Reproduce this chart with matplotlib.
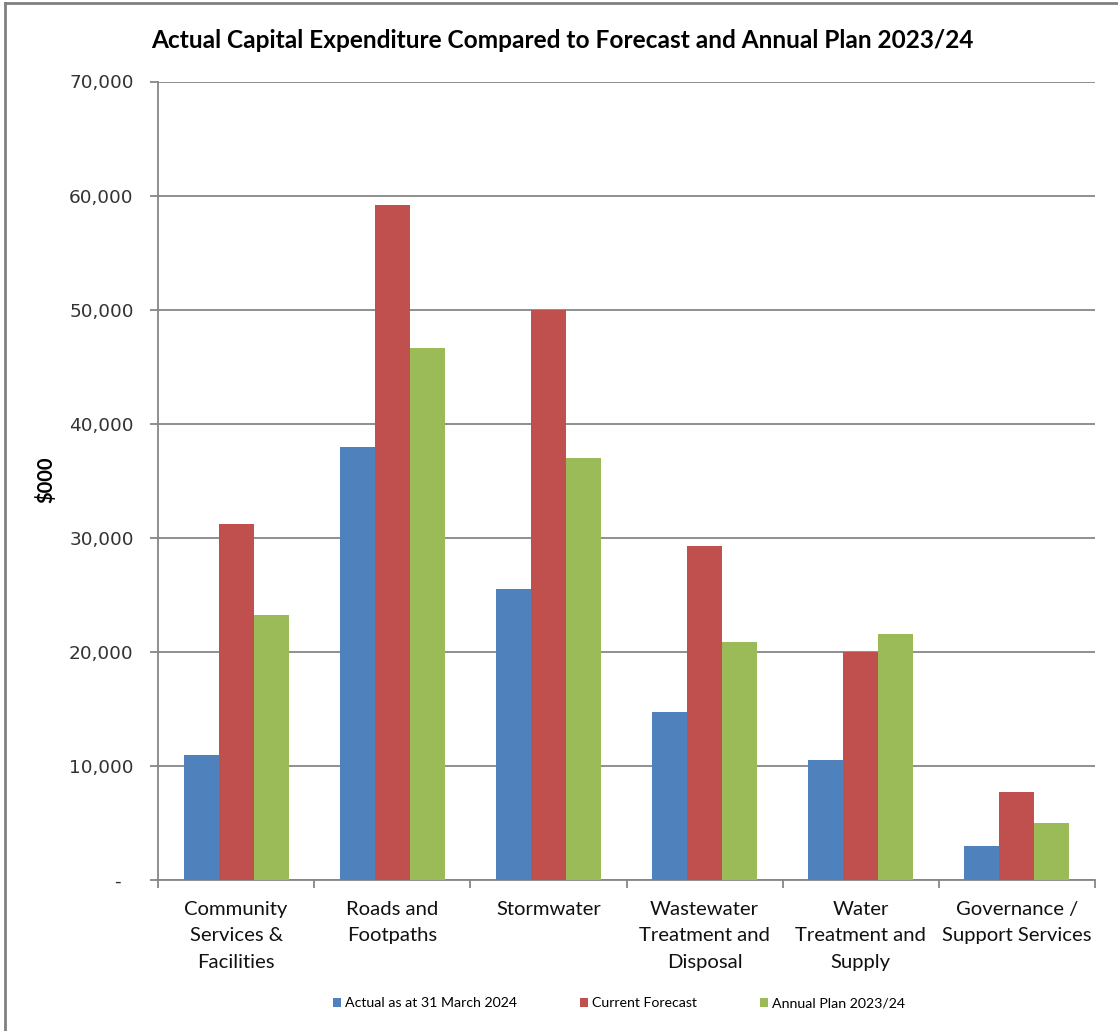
import matplotlib
matplotlib.use("Agg")
import matplotlib.pyplot as plt
import numpy as np
from matplotlib.patches import Patch
from matplotlib.lines import Line2D

categories = ["Community\nServices &\nFacilities", "Roads and\nFootpaths", "Stormwater",
              "Wastewater\nTreatment and\nDisposal", "Water\nTreatment and\nSupply",
              "Governance /\nSupport Services"]
series_names = ["Actual as at 31 March 2024", "Current Forecast", "Annual Plan 2023/24"]
actual = [11000, 38000, 25500, 14700, 10500, 3000]
forecast = [31200, 59200, 50000, 29300, 20000, 7700]
plan = [23200, 46600, 37000, 20900, 21600, 5000]
yticks = [0, 10000, 20000, 30000, 40000, 50000, 60000, 70000]
ytick_labels = ["-  ", "10,000", "20,000", "30,000", "40,000", "50,000", "60,000", "70,000"]
colors = ["#4F81BD", "#C0504D", "#9BBB59"]

W, H = 1118, 1031
fig = plt.figure(figsize=(W / 100, H / 100), dpi=100)
ax = fig.add_axes([158 / W, 1 - 880 / H, (1095 - 158) / W, (880 - 81.5) / H])

x = np.arange(len(categories))
bw = 0.224
for i, (vals, c) in enumerate(zip([actual, forecast, plan], colors)):
    ax.bar(x + (i - 1) * bw, vals, bw, color=c, edgecolor="none", zorder=3)

grid_c = "#868686"
ax.set_ylim(0, 70000)
ax.set_xlim(-0.5, len(categories) - 0.5)
ax.set_yticks(yticks)
ax.set_yticklabels(ytick_labels, family="DejaVu Sans", fontsize=13.3, color="#333333")
ax.yaxis.grid(True, color=grid_c, linewidth=1.3, zorder=0)
ax.tick_params(axis="y", length=6, width=1.3, color=grid_c, pad=11.5)

ax.set_xticks(x)
ax.set_xticklabels(categories, family="Lato", fontsize=14.6, color="#111111", linespacing=1.67)
ax.set_xticks(np.arange(-0.5, len(categories)), minor=True)
ax.tick_params(axis="x", which="major", length=0, pad=15)
ax.tick_params(axis="x", which="minor", length=6, width=1.3, color=grid_c)

for s in ["top", "right"]:
    ax.spines[s].set_visible(False)
for s in ["left", "bottom"]:
    ax.spines[s].set_color(grid_c)
    ax.spines[s].set_linewidth(1.3)

fig.text(562 / W, 1 - 40 / H, "Actual Capital Expenditure Compared to Forecast and Annual Plan 2023/24",
         ha="center", va="center", family="Lato", fontweight="bold", fontsize=17.6, color="#000000")
fig.text(46 / W, 1 - 480 / H, "$000", rotation=90, ha="center", va="center",
         family="Lato", fontweight="bold", fontsize=14.5)

handles = [Patch(facecolor=c, edgecolor="none") for c in colors]
fig.legend(handles, series_names, loc="center", bbox_to_anchor=(619 / W, 1 - 1003 / H), ncol=3,
           frameon=False, handlelength=0.6, handleheight=0.6, handletextpad=0.3,
           columnspacing=4.4, prop={"family": "Lato", "size": 10.2})

# outer frame (left & top edges visible)
fig.add_artist(Line2D([5 / W, 5 / W], [0, 1 - 3 / H], transform=fig.transFigure, color="#808080", linewidth=2))
fig.add_artist(Line2D([5 / W, 1], [1 - 3 / H, 1 - 3 / H], transform=fig.transFigure, color="#808080", linewidth=2))

fig.savefig("out.png", dpi=100, facecolor="white")
